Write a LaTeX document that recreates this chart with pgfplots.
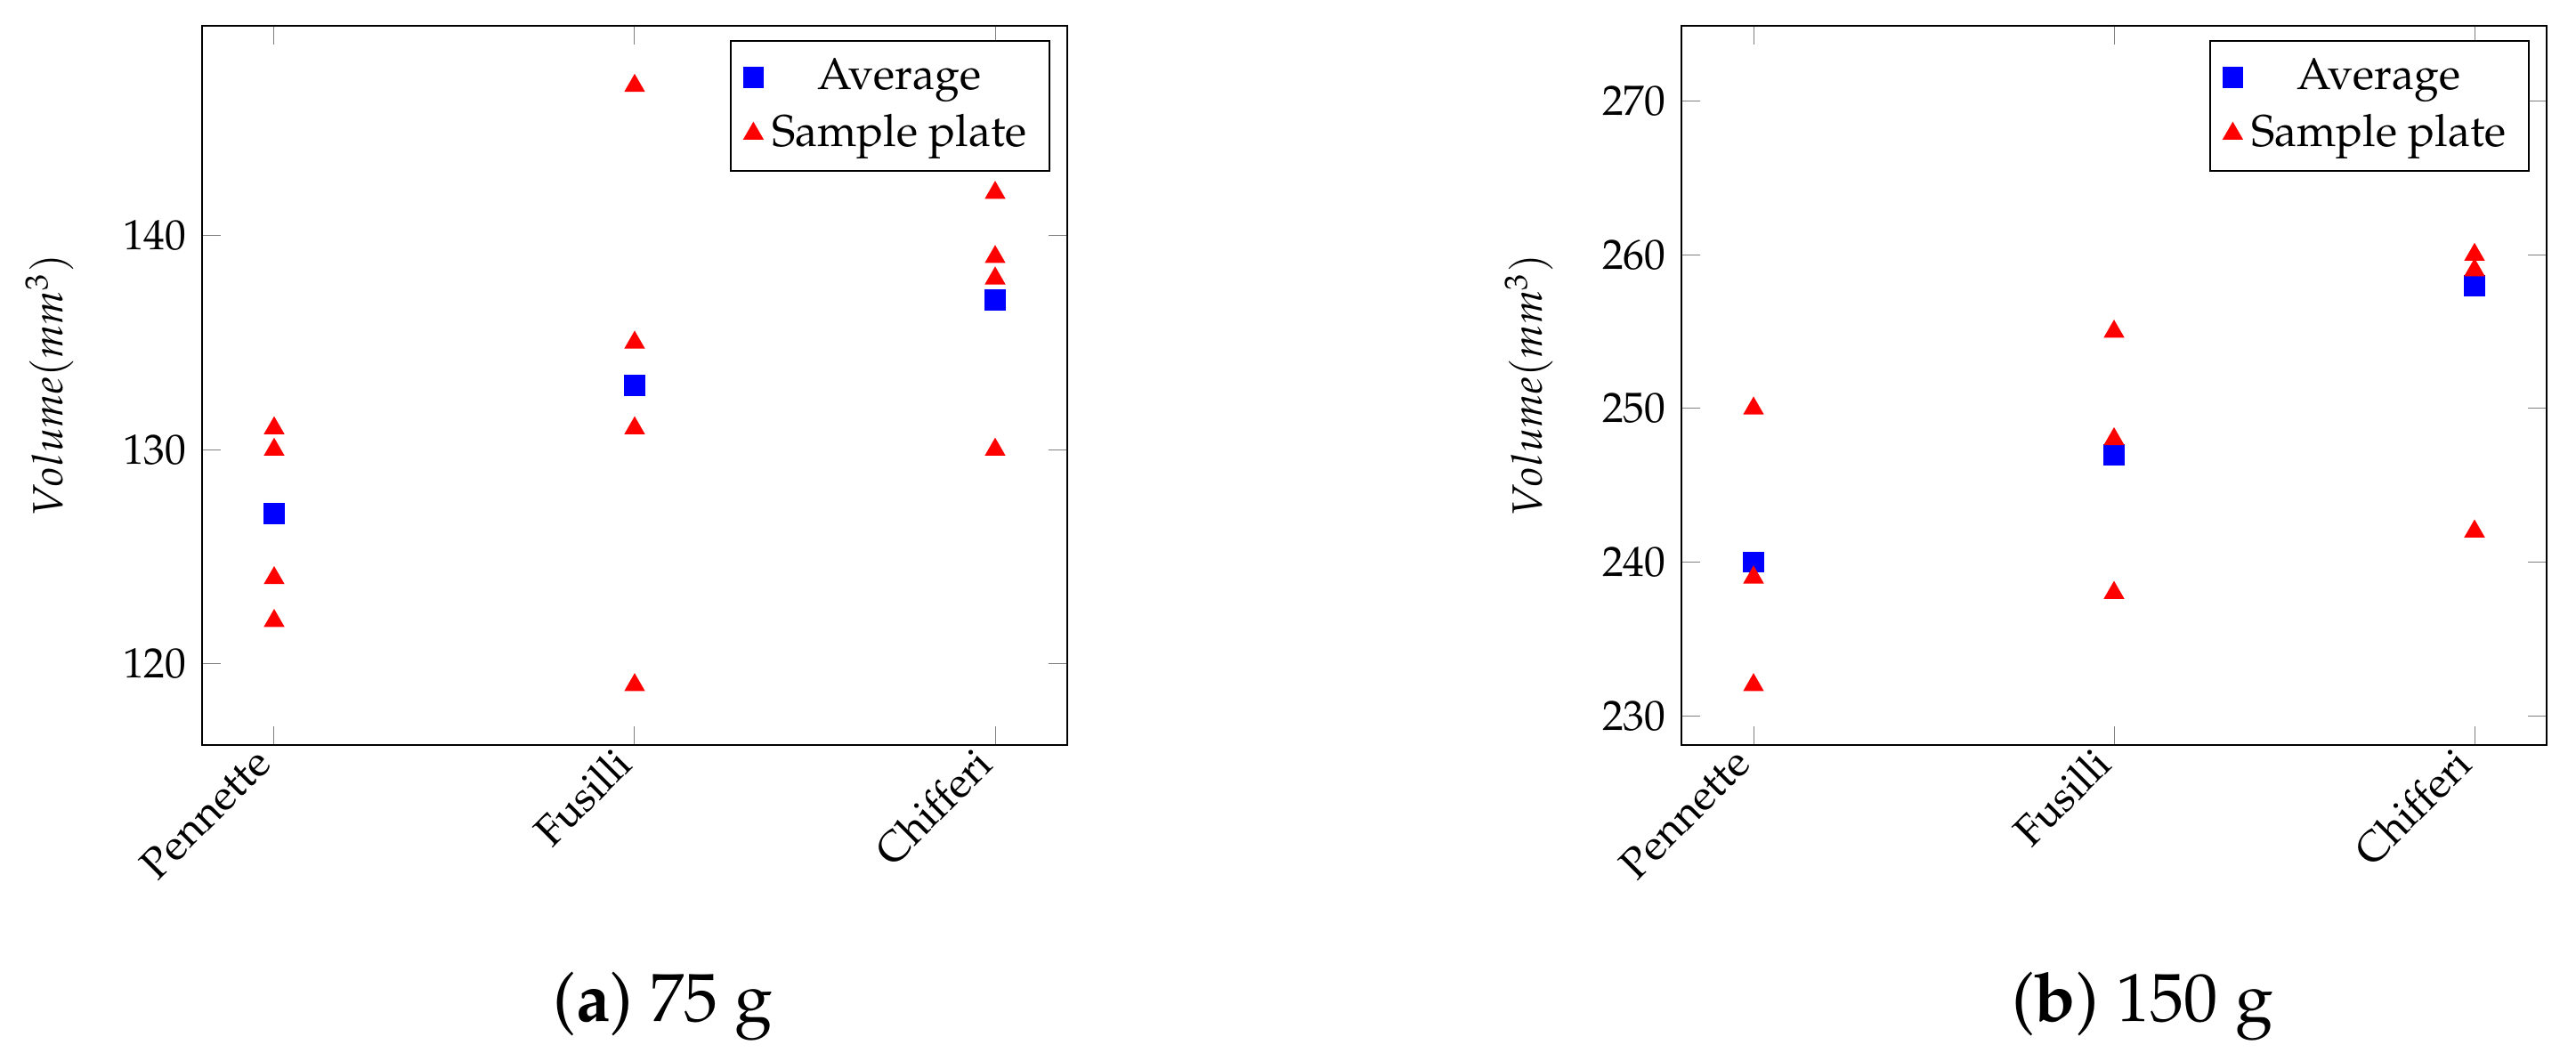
\documentclass[border=0pt]{standalone}
\usepackage[T1]{fontenc}
\usepackage{mathpazo}
\usepackage{pgfplots}
\pgfplotsset{compat=1.18}
\begin{document}
\begin{tikzpicture}
\path[use as bounding box] (0,0) rectangle (578.8pt,-238.4pt);
\pgfplotsset{
  pastastyle/.style={
    width=194.4pt, height=161.6pt, scale only axis,
    anchor=north west,
    font=\fontsize{9.5}{11.4}\selectfont,
    xtick={0,1,2}, xticklabels={Pennette,Fusilli,Chifferi},
    xmin=-0.2, xmax=2.2,
    xticklabel style={rotate=45, anchor=east},
    ylabel={$Volume (mm^3)$},
    ylabel style={at={(axis description cs:-0.176,0.5)}, anchor=center},
    legend cell align=center,
    legend style={at={(0.98,0.98)}, anchor=north east, font=\fontsize{10}{12}\selectfont},
    only marks,
  },
}
\begin{axis}[pastastyle, at={(45.4pt,-5.8pt)}, ymin=116.2, ymax=149.8, ytick={120,130,140}]
\addplot[blue, mark=square*, mark size=2.17pt] coordinates {(0,127) (1,133) (2,137)};
\addlegendentry{Average}
\addplot[red, mark=triangle*, mark size=2.3pt] coordinates {
(0,131) (0,130) (0,124) (0,122)
(1,147) (1,135) (1,131) (1,119)
(2,142) (2,139) (2,138) (2,130)};
\addlegendentry{Sample plate}
\end{axis}
\begin{axis}[pastastyle, at={(377.8pt,-5.8pt)}, ymin=228.1, ymax=274.9, ytick={230,240,250,260,270}]
\addplot[blue, mark=square*, mark size=2.17pt] coordinates {(0,240) (1,247) (2,258)};
\addlegendentry{Average}
\addplot[red, mark=triangle*, mark size=2.3pt] coordinates {
(0,250) (0,239) (0,232)
(1,255) (1,248) (1,238)
(2,260) (2,259) (2,242)};
\addlegendentry{Sample plate}
\end{axis}
\node[anchor=base, font=\fontsize{15.3}{18}\selectfont] at (149pt,-229.4pt) {(\textbf{a}) 75 g};
\node[anchor=base, font=\fontsize{15.3}{18}\selectfont] at (481.4pt,-229.4pt) {(\textbf{b}) 150 g};
\end{tikzpicture}
\end{document}
